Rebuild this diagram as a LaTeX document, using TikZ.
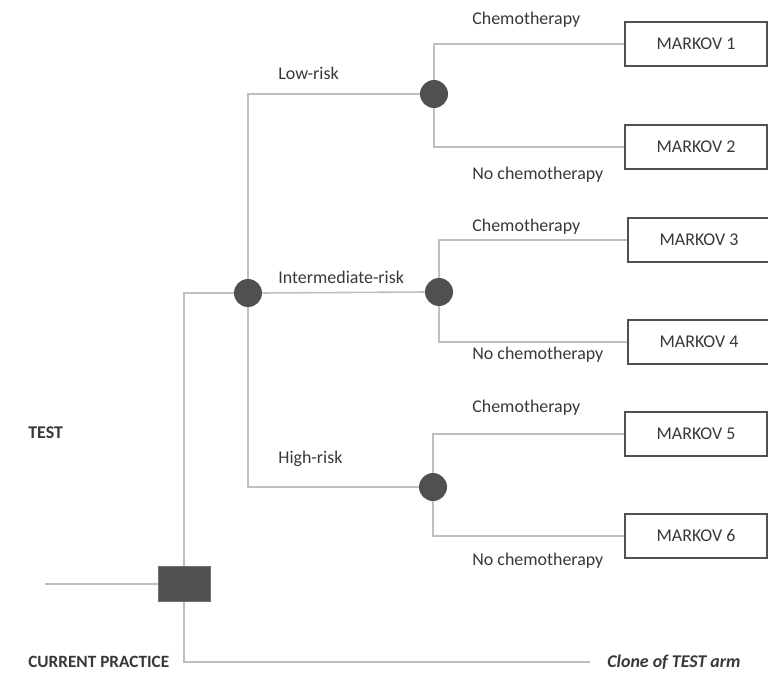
\documentclass[tikz,border=0pt]{standalone}
\usepackage{fontspec}
\setmainfont{Carlito}
\usetikzlibrary{positioning}
\definecolor{treeline}{HTML}{BFBFBF}
\definecolor{nodefill}{HTML}{505050}
\definecolor{nodeedge}{HTML}{6A7480}
\definecolor{labeltext}{HTML}{383838}
\tikzset{
	branch/.style={draw=treeline, line width=0.9pt},
	chance/.style={circle, fill=nodefill, minimum size=0.56cm, inner sep=0pt},
	decision/.style={rectangle, fill=nodefill, draw=nodeedge, minimum width=1.04cm, minimum height=0.7cm, inner sep=0pt},
	markov/.style={rectangle, draw=nodefill, line width=0.6pt, fill=white, minimum width=2.84cm, minimum height=0.88cm, inner sep=0pt, text=labeltext},
	lbl/.style={anchor=west, text=labeltext, inner sep=0pt}
}

\begin{document}
\begin{tikzpicture}[x=0.02cm, y=-0.02cm, font=\fontsize{10.2}{12}\selectfont]
				\useasboundingbox (0,0) rectangle (768,673);
				
				% decision node and its two arms
				\node[decision] (sq) at (184,584) {};
				\coordinate (root) at (45,584);
				\coordinate (clone) at (590,662);
				\draw[branch] (root) -- (sq.west);
				\node[lbl, font=\fontsize{10.2}{12}\selectfont\bfseries] (test) at (28,433) {TEST};
				\node[lbl, font=\fontsize{9.8}{12}\selectfont\bfseries] (cur) at (28,662) {CURRENT PRACTICE};
				\node[lbl, font=\fontsize{10.2}{12}\selectfont\bfseries\itshape] (clonetxt) at (607,662) {Clone of TEST arm};
				
				% risk groups
				\node[chance] (risk) at (248,293) {};
				\node[chance] (low) at (434,94) {};
				\node[chance] (mid) at (439,292) {};
				\node[chance] (high) at (433,487) {};
				
				\draw[branch] (sq.north) |- (risk.west);
				\draw[branch] (sq.south) |- (clone);
				\draw[branch] (risk.north) |- (low.west);
				\draw[branch] (risk.east) -- (mid.west);
				\draw[branch] (risk.south) |- (high.west);
				
				\node[lbl] (lowtxt) at (278,73) {Low-risk};
				\node[lbl] (midtxt) at (278,277) {Intermediate-risk};
				\node[lbl] (hightxt) at (278,459) {High-risk};
				
				% markov states
				\node[markov] (m1) at (696,44) {MARKOV 1};
				\node[markov] (m2) at (696,147) {MARKOV 2};
				\node[markov] (m3) at (699,240) {MARKOV 3};
				\node[markov] (m4) at (699,342) {MARKOV 4};
				\node[markov] (m5) at (696,434) {MARKOV 5};
				\node[markov] (m6) at (696,536) {MARKOV 6};
				
				\draw[branch] (low.north) |- (m1.west);
				\draw[branch] (low.south) |- (m2.west);
				\draw[branch] (mid.north) |- (m3.west);
				\draw[branch] (mid.south) |- (m4.west);
				\draw[branch] (high.north) |- (m5.west);
				\draw[branch] (high.south) |- (m6.west);
				
				\node[lbl] (c1) at (472,20) {Chemotherapy};
				\node[lbl] (n1) at (472,175) {No chemotherapy};
				\node[lbl] (c2) at (472,227) {Chemotherapy};
				\node[lbl] (n2) at (472,355) {No chemotherapy};
				\node[lbl] (c3) at (472,408) {Chemotherapy};
				\node[lbl] (n3) at (472,561) {No chemotherapy};
			\end{tikzpicture}
\end{document}
